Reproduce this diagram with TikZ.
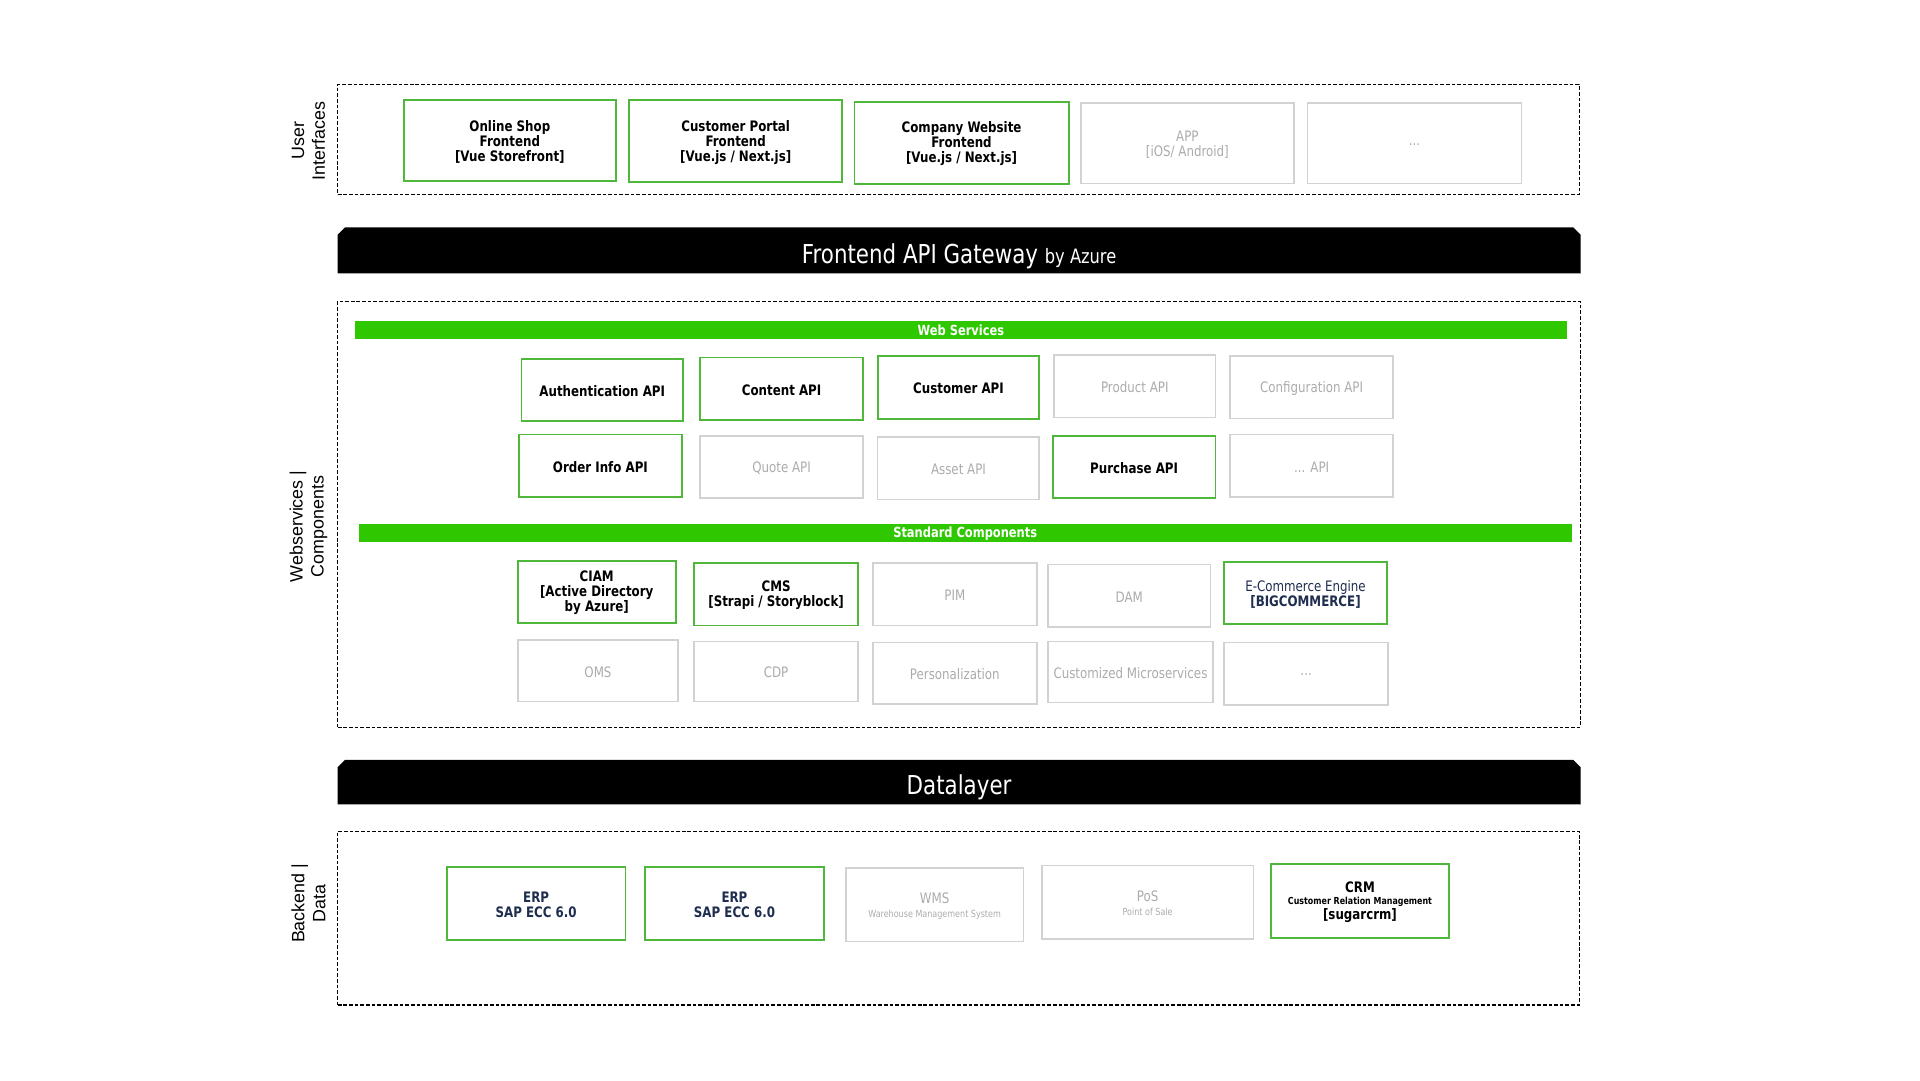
\documentclass[tikz,border=0pt]{standalone}
\usepackage{fontspec}
\setmainfont{DejaVu Sans}[FakeStretch=0.82]
\newfontfamily\lblfont{Liberation Sans}
\usetikzlibrary{fit}
\definecolor{gborder}{HTML}{4FB83A}
\definecolor{gbar}{HTML}{2EC700}
\definecolor{lgborder}{HTML}{D2D2D2}
\definecolor{lgtext}{HTML}{ABABAB}
\definecolor{navy}{HTML}{1F2D4F}
\tikzset{
  gbox/.style={inner sep=0pt, draw=gborder, line width=1.5pt},
  lbox/.style={inner sep=0pt, draw=lgborder, line width=1.3pt},
  gtxt/.style={inner sep=0pt, align=center, font=\fontsize{11.8}{12.2}\selectfont\bfseries},
  ntxt/.style={inner sep=0pt, align=center, text=navy, font=\fontsize{11.8}{12.2}\selectfont},
  ltxt/.style={inner sep=0pt, align=center, text=lgtext, font=\fontsize{11.8}{12.2}\selectfont},
  dbox/.style={draw=black, line width=0.9pt, dash pattern=on 3pt off 1.6pt, inner sep=0pt},
  gstrip/.style={fill=gbar, inner sep=0pt},
  striptext/.style={text=white, inner sep=0pt, font=\fontsize{11.4}{11.4}\selectfont\bfseries},
  barframe/.style={inner sep=0pt},
  bartext/.style={text=white, inner sep=0pt, font=\fontsize{21.3}{21.3}\selectfont},
  sidelbl/.style={rotate=90, align=center, font=\lblfont\fontsize{14.6}{17}\selectfont}
}
% #1 name, #2 frame style, #3 text style, #4 corner 1, #5 corner 2, #6 text
\newcommand{\archbox}[6]{%
  \node[#2, fit={#4 #5}] (#1) {};
  \node[#3] (#1-t) at ([yshift=-1pt]#1.center) {#6};}
% chamfered black bar from a named frame node
\newcommand{\blackbar}[1]{%
  \fill[black] (#1.south west) -- ([yshift=-6pt]#1.north west) -- ([xshift=6pt]#1.north west)
    -- ([xshift=-6pt]#1.north east) -- ([yshift=-6pt]#1.north east) -- (#1.south east) -- cycle;
  \draw[gray!70, line width=0.7pt] (#1.south west) -- (#1.south east);}
\begin{document}
\begin{tikzpicture}[x=1pt,y=-1pt]
\useasboundingbox (0,0) rectangle (1568.5,882.3);

% ---------- User interfaces ----------
\node[dbox, fit={(276,69) (1290,159)}] (uiframe) {};
\node[sidelbl] (uilbl) at (252,115) {User\\Interfaces};
\archbox{ui1}{gbox}{gtxt}{(330,82)}{(503,148)}{Online Shop\\Frontend\\{[Vue Storefront]}}
\archbox{ui2}{gbox}{gtxt}{(514,82)}{(688,149)}{Customer Portal\\Frontend\\{[Vue.js / Next.js]}}
\archbox{ui3}{gbox}{gtxt}{(698,83)}{(873,150)}{Company Website\\Frontend\\{[Vue.js / Next.js]}}
\archbox{ui4}{lbox}{ltxt}{(883,84)}{(1057,150)}{APP\\{[iOS/ Android]}}
\archbox{ui5}{lbox}{ltxt}{(1068,84)}{(1243,150)}{...}

% ---------- Gateway bar ----------
\node[barframe, fit={(276,186) (1291,223)}] (gw) {};
\blackbar{gw}
\node[bartext] (gwtext) at (783.5,209) {Frontend API Gateway {\fontsize{16.2}{16.2}\selectfont by Azure}};

% ---------- Webservices / components ----------
\node[dbox, fit={(276,246) (1291,594)}] (wsframe) {};
\node[sidelbl] (wslbl) at (252,430) {Webservices |\\Components};
\node[gstrip, fit={(290,262) (1280,277)}] (wsbar) {};
\node[striptext] (wsbartext) at (785,270) {Web Services};

\archbox{auth}{gbox}{gtxt}{(426,293)}{(558,344)}{Authentication API}
\archbox{content}{gbox}{gtxt}{(572,292)}{(705,343)}{Content API}
\archbox{customer}{gbox}{gtxt}{(717,291)}{(849,342)}{Customer API}
\archbox{product}{lbox}{ltxt}{(861,290)}{(993,341)}{Product API}
\archbox{config}{lbox}{ltxt}{(1005,291)}{(1138,342)}{Configuration API}

\archbox{order}{gbox}{gtxt}{(424,355)}{(557,406)}{Order Info API}
\archbox{quote}{lbox}{ltxt}{(572,356)}{(705,407)}{Quote API}
\archbox{asset}{lbox}{ltxt}{(717,357)}{(849,408)}{Asset API}
\archbox{purchase}{gbox}{gtxt}{(860,356)}{(993,407)}{Purchase API}
\archbox{dotapi}{lbox}{ltxt}{(1005,355)}{(1138,406)}{... API}

\node[gstrip, fit={(293,428) (1284,443)}] (scbar) {};
\node[striptext] (scbartext) at (788.5,436) {Standard Components};

\archbox{ciam}{gbox}{gtxt}{(423,458)}{(552,509)}{CIAM\\{[Active Directory}\\by Azure]}
\archbox{cms}{gbox}{gtxt}{(567,460)}{(701,511)}{CMS\\{[Strapi / Storyblock]}}
\archbox{pim}{lbox}{ltxt}{(713,460)}{(847,511)}{PIM}
\archbox{dam}{lbox}{ltxt}{(856,461)}{(989,512)}{DAM}
\archbox{ecom}{gbox}{ntxt}{(1000,459)}{(1133,510)}{E-Commerce Engine\\{\bfseries [BIGCOMMERCE]}}

\archbox{oms}{lbox}{ltxt}{(423,523)}{(554,573)}{OMS}
\archbox{cdp}{lbox}{ltxt}{(567,524)}{(701,573)}{CDP}
\archbox{pers}{lbox}{ltxt}{(713,525)}{(847,575)}{Personalization}
\archbox{micro}{lbox}{ltxt}{(856,524)}{(991,574)}{Customized Microservices}
\archbox{dots}{lbox}{ltxt}{(1000,525)}{(1134,576)}{...}

% ---------- Datalayer bar ----------
\node[barframe, fit={(276,621) (1291,657)}] (dl) {};
\blackbar{dl}
\node[bartext] (dltext) at (783.5,643) {Datalayer};

% ---------- Backend ----------
\node[dbox, fit={(276,679) (1290,821)}] (beframe) {};
\node[sidelbl] (belbl) at (252,738) {Backend |\\Data};
\archbox{erp1}{gbox}{gtxt, text=navy}{(365,708)}{(511,768)}{ERP\\SAP ECC 6.0}
\archbox{erp2}{gbox}{gtxt, text=navy}{(527,708)}{(673,768)}{ERP\\SAP ECC 6.0}
\archbox{wms}{lbox}{ltxt}{(691,709)}{(836,769)}{WMS\\[-1pt]{\fontsize{8}{9}\selectfont Warehouse Management System}}
\archbox{pos}{lbox}{ltxt}{(851,707)}{(1024,767)}{PoS\\[-1pt]{\fontsize{8}{9}\selectfont Point of Sale}}
\archbox{crm}{gbox}{gtxt}{(1038,706)}{(1184,766)}{CRM\\[-2pt]{\fontsize{7.9}{9}\selectfont Customer Relation Management}\\{[sugarcrm]}}
\end{tikzpicture}
\end{document}
